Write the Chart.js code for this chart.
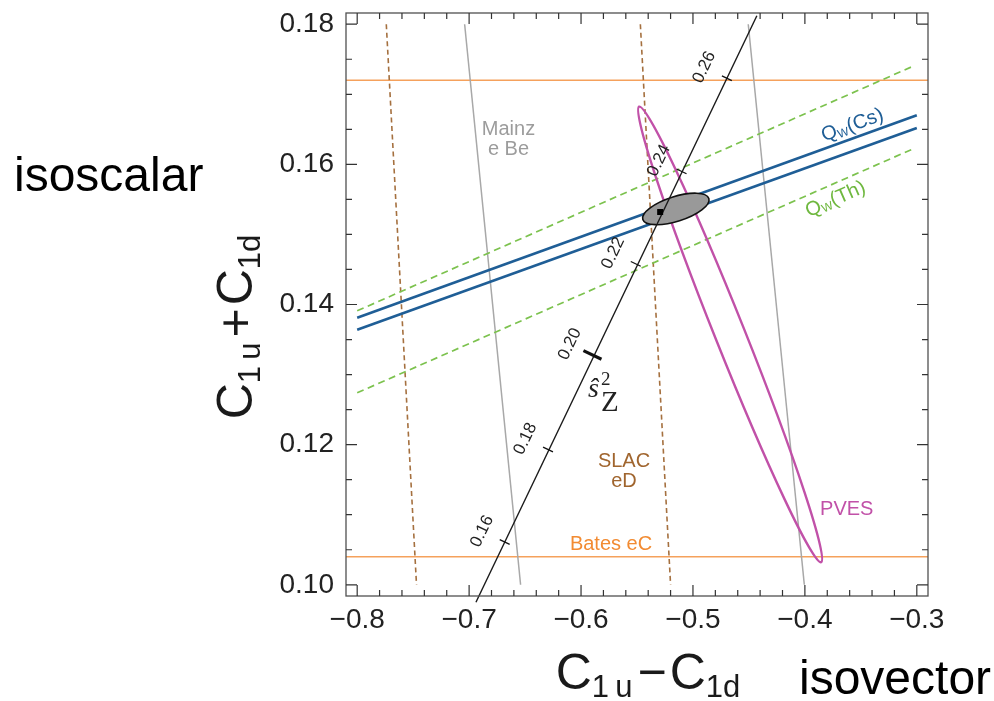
<!DOCTYPE html>
<html>
<head>
<meta charset="utf-8">
<script src="https://cdn.jsdelivr.net/npm/chart.js@4.4.1/dist/chart.umd.min.js"></script>
<style>
  html, body { margin: 0; padding: 0; background: #fff; }
  #wrap { width: 994px; height: 701px; }
</style>
</head>
<body>
<div id="wrap"><canvas id="couplings" width="994" height="701"></canvas></div>
<script>
// axis ranges and labelled ticks
const X_RANGE = [-0.81, -0.29];
const Y_RANGE = [0.0984, 0.1816];
const X_TICKS = [-0.8, -0.7, -0.6, -0.5, -0.4, -0.3];
const Y_TICKS = [0.10, 0.12, 0.14, 0.16, 0.18];

// Bates eC: horizontal band edges
const BATES_Y = [0.104, 0.172];

// SLAC eD and Mainz e Be: band edges given at y = 0.18 and y = 0.10
const BAND_Y = [0.18, 0.10];
const SLAC_LEFT_X = [-0.774, -0.747];
const SLAC_RIGHT_X = [-0.547, -0.520];
const MAINZ_LEFT_X = [-0.704, -0.654];
const MAINZ_RIGHT_X = [-0.4506, -0.4005];

// atomic parity violation bands
const CS_X = [-0.8, -0.3];
const CS_UPPER_Y = [0.1381, 0.1670];
const CS_LOWER_Y = [0.1364, 0.1652];
const TH_X = [-0.8, -0.302];
const TH_UPPER_Y = [0.1391, 0.1741];
const TH_LOWER_Y = [0.1274, 0.1623];

// Standard Model line as a function of the weak mixing angle
const SZ_X = [-0.6939, -0.4429];
const SZ_Y = [0.0975, 0.1812];
const SZ_LABELS = ['0.16', '0.18', '0.20', '0.22', '0.24', '0.26'];
const SZ_TICK_X = [-0.6682, -0.6295, -0.5898, -0.5511, -0.5102, -0.4697];
const SZ_TICK_Y = [0.1061, 0.1193, 0.1328, 0.1458, 0.1590, 0.1723];

// ellipses: centre, end of major axis, end of minor axis
const PVES_ELLIPSE = [[-0.4668, 0.13573], [-0.5481, 0.16823], [-0.4544, 0.13653]];
const FIT_ELLIPSE = [[-0.5153, 0.15364], [-0.4858, 0.15514], [-0.5120, 0.15196]];
const SM_POINT = [-0.5293, 0.1532];

const SANS = '"Liberation Sans", Arial, Helvetica, sans-serif';
const SERIF = '"Liberation Serif", "Times New Roman", serif';

const ORANGE = '#f5a15c';
const BROWN = '#a5703f';
const GRAY = '#a8a8a8';
const BLUE = '#1f5e96';
const GREEN = '#7cc24e';
const MAGENTA = '#c151a8';

function seg(xs, ys) {
    return xs.map((x, i) => ({ x: x, y: ys[i] }));
}

function line(data, color, width, dash) {
    return {
        data: data,
        borderColor: color,
        borderWidth: width,
        borderDash: dash || [],
        pointRadius: 0,
        showLine: true,
        fill: false
    };
}

// text annotations placed in data coordinates
const TEXTS = [
    { lines: ['Mainz', 'e Be'], x: -0.6648, y: 0.1636, color: '#9c9c9c' },
    { lines: ['SLAC', 'eD'], x: -0.5616, y: 0.1162, color: '#a0652e' },
    { lines: ['Bates eC'], x: -0.5732, y: 0.1058, color: '#f28b32' },
    { lines: ['PVES'], x: -0.3626, y: 0.1107, color: MAGENTA }
];

function drawRuns(ctx, runs, x, y, align) {
    let total = 0;
    runs.forEach(r => {
        ctx.font = (r.style || '') + ' ' + r.size + 'px ' + (r.family || SANS);
        r.w = ctx.measureText(r.t).width;
        total += r.w + (r.gap || 0);
    });
    let cx = align === 'center' ? x - total / 2 : x;
    ctx.textAlign = 'left';
    ctx.textBaseline = 'alphabetic';
    runs.forEach(r => {
        ctx.font = (r.style || '') + ' ' + r.size + 'px ' + (r.family || SANS);
        ctx.fillText(r.t, cx, y + (r.dy || 0));
        cx += r.w + (r.gap || 0);
    });
}

function toPx(chart, p) {
    return [chart.scales.x.getPixelForValue(p[0]), chart.scales.y.getPixelForValue(p[1])];
}

function drawEllipse(ctx, chart, e, stroke, fill, width) {
    const c = toPx(chart, e[0]), a = toPx(chart, e[1]), b = toPx(chart, e[2]);
    const rx = Math.hypot(a[0] - c[0], a[1] - c[1]);
    const ry = Math.hypot(b[0] - c[0], b[1] - c[1]);
    const rot = Math.atan2(a[1] - c[1], a[0] - c[0]);
    ctx.beginPath();
    ctx.ellipse(c[0], c[1], rx, ry, rot, 0, Math.PI * 2);
    if (fill) {
        ctx.fillStyle = fill;
        ctx.fill();
    }
    ctx.strokeStyle = stroke;
    ctx.lineWidth = width;
    ctx.stroke();
}

const overlay = {
    id: 'overlay',
    beforeDatasetDraw(chart, args) {
        if (args.index !== 0) return;
        const ctx = chart.ctx;
        ctx.save();
        drawEllipse(ctx, chart, PVES_ELLIPSE, MAGENTA, null, 2.4);
        drawEllipse(ctx, chart, FIT_ELLIPSE, '#111', '#999999', 1.6);
        ctx.restore();
    },
    afterDatasetsDraw(chart) {
        const ctx = chart.ctx;
        const xs = chart.scales.x, ys = chart.scales.y, area = chart.chartArea;
        ctx.save();

        // frame with inward ticks on all four sides
        ctx.strokeStyle = '#505050';
        ctx.lineWidth = 1.3;
        ctx.strokeRect(area.left, area.top, area.right - area.left, area.bottom - area.top);
        ctx.strokeStyle = '#333';
        ctx.lineWidth = 1.2;
        ctx.beginPath();
        for (let i = 0; i <= 25; i++) {
            const v = -0.8 + i * 0.02;
            const len = i % 5 === 0 ? 11 : 6;
            const x = xs.getPixelForValue(v);
            ctx.moveTo(x, area.bottom); ctx.lineTo(x, area.bottom - len);
            ctx.moveTo(x, area.top); ctx.lineTo(x, area.top + len);
        }
        for (let i = 0; i <= 16; i++) {
            const v = 0.10 + i * 0.005;
            const len = i % 4 === 0 ? 11 : 6;
            const y = ys.getPixelForValue(v);
            ctx.moveTo(area.left, y); ctx.lineTo(area.left + len, y);
            ctx.moveTo(area.right, y); ctx.lineTo(area.right - len, y);
        }
        ctx.stroke();

        // tick marks and labels along the Standard Model line
        const p0 = toPx(chart, [SZ_X[0], SZ_Y[0]]);
        const p1 = toPx(chart, [SZ_X[1], SZ_Y[1]]);
        const L = Math.hypot(p1[0] - p0[0], p1[1] - p0[1]);
        const d = [(p1[0] - p0[0]) / L, (p1[1] - p0[1]) / L];
        const n = [d[1], -d[0]];
        const ang = Math.atan2(d[1], d[0]);
        ctx.strokeStyle = '#111';
        ctx.fillStyle = '#222';
        SZ_TICK_X.forEach((tx, i) => {
            const p = toPx(chart, [tx, SZ_TICK_Y[i]]);
            const bold = SZ_LABELS[i] === '0.20';
            const h = bold ? 10 : 5.5;
            ctx.lineWidth = bold ? 3.2 : 1.3;
            ctx.beginPath();
            ctx.moveTo(p[0] - n[0] * h, p[1] - n[1] * h);
            ctx.lineTo(p[0] + n[0] * h, p[1] + n[1] * h);
            ctx.stroke();
            ctx.save();
            ctx.translate(p[0] + n[0] * 25, p[1] + n[1] * 25);
            ctx.rotate(ang);
            ctx.font = '17px ' + SANS;
            ctx.textAlign = 'center';
            ctx.textBaseline = 'middle';
            ctx.fillText(SZ_LABELS[i], 0, 0);
            ctx.restore();
        });

        // s-hat squared Z label
        const s = toPx(chart, [-0.5938, 0.1268]);
        ctx.fillStyle = '#222';
        drawRuns(ctx, [{ t: '\u015D', size: 28, style: 'italic', family: SERIF }], s[0], s[1], 'left');
        drawRuns(ctx, [{ t: '2', size: 19, family: SERIF }], s[0] + 13, s[1] - 12, 'left');
        drawRuns(ctx, [{ t: 'Z', size: 29, family: SERIF }], s[0] + 13, s[1] + 14, 'left');

        // central value
        const sm = toPx(chart, SM_POINT);
        ctx.fillStyle = '#000';
        ctx.fillRect(sm[0] - 3, sm[1] - 3, 6, 6);

        // band labels
        ctx.textAlign = 'center';
        ctx.textBaseline = 'middle';
        TEXTS.forEach(t => {
            const p = toPx(chart, [t.x, t.y]);
            ctx.fillStyle = t.color;
            ctx.font = '20px ' + SANS;
            t.lines.forEach((ln, k) => {
                ctx.fillText(ln, p[0], p[1] + (k - (t.lines.length - 1) / 2) * 20);
            });
        });

        // rotated Qw labels along their bands
        [[CS_X, CS_UPPER_Y, '(Cs)', BLUE, [-0.3579, 0.16576]],
         [TH_X, TH_LOWER_Y, '(Th)', '#6fb83f', [-0.3731, 0.1552]]].forEach(q => {
            const a = toPx(chart, [q[0][0], q[1][0]]);
            const b = toPx(chart, [q[0][1], q[1][1]]);
            const c = toPx(chart, q[4]);
            ctx.save();
            ctx.translate(c[0], c[1]);
            ctx.rotate(Math.atan2(b[1] - a[1], b[0] - a[0]));
            ctx.fillStyle = q[3];
            drawRuns(ctx, [
                { t: 'Q', size: 20 },
                { t: 'W', size: 12, dy: 2 },
                { t: q[2], size: 20 }
            ], 0, 7, 'center');
            ctx.restore();
        });

        // axis titles and side captions
        ctx.fillStyle = '#1a1a1a';
        const title = op => [
            { t: 'C', size: 50 },
            { t: '1\u2009u', size: 31, dy: 8, gap: 5 },
            { t: op, size: 50, gap: 3 },
            { t: 'C', size: 50 },
            { t: '1d', size: 31, dy: 8 }
        ];
        drawRuns(ctx, title('\u2212'), 648, 689, 'center');
        ctx.save();
        ctx.translate(252, 327);
        ctx.rotate(-Math.PI / 2);
        drawRuns(ctx, title('+'), 0, 0, 'center');
        ctx.restore();

        ctx.fillStyle = '#000';
        drawRuns(ctx, [{ t: 'isoscalar', size: 48 }], 14, 191, 'left');
        drawRuns(ctx, [{ t: 'isovector', size: 48 }], 799, 694, 'left');

        ctx.restore();
    }
};

const smLine = line(seg(SZ_X, SZ_Y), '#1a1a1a', 1.4);
smLine.clip = false;

new Chart(document.getElementById('couplings'), {
    type: 'scatter',
    data: {
        datasets: [
            smLine,
            line(seg(CS_X, CS_UPPER_Y), BLUE, 2.6),
            line(seg(CS_X, CS_LOWER_Y), BLUE, 2.6),
            line(seg(TH_X, TH_UPPER_Y), GREEN, 1.7, [7, 4.5]),
            line(seg(TH_X, TH_LOWER_Y), GREEN, 1.7, [7, 4.5]),
            line(seg(MAINZ_LEFT_X, BAND_Y), GRAY, 1.5),
            line(seg(MAINZ_RIGHT_X, BAND_Y), GRAY, 1.5),
            line(seg(SLAC_LEFT_X, BAND_Y), BROWN, 1.6, [5, 3.5]),
            line(seg(SLAC_RIGHT_X, BAND_Y), BROWN, 1.6, [5, 3.5]),
            line(seg(X_RANGE, [BATES_Y[0], BATES_Y[0]]), ORANGE, 1.6),
            line(seg(X_RANGE, [BATES_Y[1], BATES_Y[1]]), ORANGE, 1.6)
        ]
    },
    options: {
        responsive: false,
        animation: false,
        layout: { padding: { left: 0, right: 66, top: 13, bottom: 0 } },
        plugins: { legend: { display: false }, tooltip: { enabled: false } },
        elements: { line: { tension: 0 } },
        scales: {
            x: {
                type: 'linear',
                min: X_RANGE[0],
                max: X_RANGE[1],
                grid: { display: false, drawTicks: false },
                border: { display: false },
                afterBuildTicks: s => { s.ticks = X_TICKS.map(v => ({ value: v })); },
                afterFit: s => { s.height = 105; s.paddingLeft = 0; s.paddingRight = 0; },
                ticks: {
                    padding: 7,
                    color: '#222',
                    autoSkip: false,
                    maxRotation: 0,
                    font: { family: SANS, size: 28 },
                    callback: v => '\u2212' + Math.abs(v).toFixed(1)
                }
            },
            y: {
                type: 'linear',
                min: Y_RANGE[0],
                max: Y_RANGE[1],
                grid: { display: false, drawTicks: false },
                border: { display: false },
                afterBuildTicks: s => { s.ticks = Y_TICKS.map(v => ({ value: v })); },
                afterFit: s => { s.width = 346; s.paddingTop = 0; s.paddingBottom = 0; },
                ticks: {
                    padding: 12,
                    color: '#222',
                    autoSkip: false,
                    font: { family: SANS, size: 28 },
                    callback: v => v.toFixed(2)
                }
            }
        }
    },
    plugins: [overlay]
});
</script>
</body>
</html>
